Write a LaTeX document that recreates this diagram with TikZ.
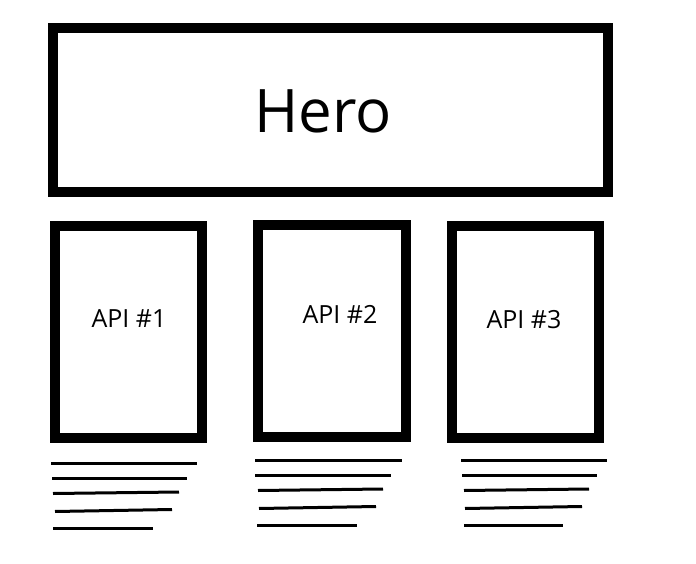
\documentclass[tikz,border=0pt]{standalone}
\usepackage{fontspec}
\setmainfont{Open Sans}
\begin{document}
\begin{tikzpicture}[x=1pt,y=-1pt,
  panel/.style={draw=black,line width=10pt,rectangle,inner sep=0pt,outer sep=0pt},
  apilabel/.style={font=\fontsize{25}{30}\selectfont,anchor=base,inner sep=0pt},
  textline/.style={draw=black,line width=3pt}]
\useasboundingbox (0,0) rectangle (696,564);
\node[panel,minimum width=555pt,minimum height=164pt] (hero) at (330.5,110) {};
\node[font=\fontsize{60}{70}\selectfont,anchor=base,inner sep=0pt] (herotxt) at (323,133) {Hero};
\node[panel,minimum width=147pt,minimum height=212pt] (api1) at (128.5,332) {};
\node[panel,minimum width=148pt,minimum height=212pt] (api2) at (332,331) {};
\node[panel,minimum width=147pt,minimum height=212pt] (api3) at (525.5,332) {};
\node[apilabel] (t1) at (129,327) {API \#1};
\node[apilabel] (t2) at (340,323) {API \#2};
\node[apilabel] (t3) at (524,328) {API \#3};
% text lines under API #1
\draw[textline] (51,463) -- (197,463);
\draw[textline] (52,478) -- (187,478);
\draw[textline] (53,493.5) -- (179,492);
\draw[textline] (55,511.5) -- (172,509.5);
\draw[textline] (53,528) -- (153,528);
% text lines under API #2
\draw[textline] (255,460) -- (402,460);
\draw[textline] (255,475) -- (391,475);
\draw[textline] (258,490.5) -- (383,489);
\draw[textline] (259,508.5) -- (376,506.5);
\draw[textline] (257,525) -- (357,525);
% text lines under API #3
\draw[textline] (461,460) -- (607,460);
\draw[textline] (462,475) -- (597,475);
\draw[textline] (464,490.5) -- (589,489);
\draw[textline] (465,508.5) -- (582,506.5);
\draw[textline] (464,525) -- (563,525);
\end{tikzpicture}
\end{document}
